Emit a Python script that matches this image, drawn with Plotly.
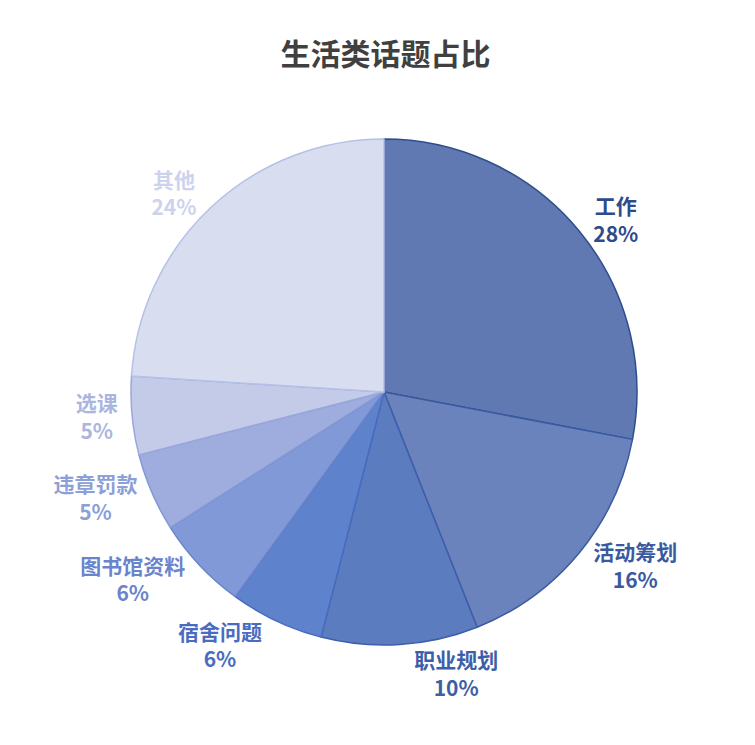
import plotly.graph_objects as go

# dados
categorias = ['工作', '活动筹划', '职业规划', '宿舍问题', '图书馆资料', '违章罚款', '选课', '其他']
valores = [28, 16, 10, 6, 6, 5, 5, 24]

cores = ['#6079b2', '#6a83bd', '#5c7cc0', '#5f82cc', '#8199d6', '#9eadde', '#c3cbe9', '#d8ddf0']
bordas = ['#2f4d8c', '#3a5aa0', '#3d5eaa', '#4a6cc0', '#6a84cc', '#8398d4', '#98a8dc', '#b6c1e6']
cores_texto = ['#2f4b8a', '#3a5aa0', '#3e5fa8', '#4a6cc0', '#6a84cc', '#8c9fd6', '#aab6e0', '#cdd3ec']

fig = go.Figure()
fig.add_trace(go.Pie(
    labels=categorias, values=valores,
    sort=False, direction='clockwise', rotation=0,
    marker=dict(colors=cores, line=dict(color=bordas, width=1.5)),
    textposition='outside',
    texttemplate='<b>%{label}</b><br><b>%{percent:.0%}</b>',
    outsidetextfont=dict(color=cores_texto, size=21, family='Noto Sans CJK SC'),
    domain=dict(x=[0.1629, 0.8331], y=[0.145, 0.8242]),
    showlegend=False,
    hoverinfo='label+percent',
))

fig.update_layout(
    width=755, height=745,
    margin=dict(l=0, r=0, t=0, b=0),
    paper_bgcolor='white',
    title=dict(text='<b>生活类话题占比</b>', x=0.5, xanchor='center', y=0.937, yanchor='middle',
               font=dict(size=30, color='#404040', family='Noto Sans CJK SC')),
)

fig.write_html('out.html')
